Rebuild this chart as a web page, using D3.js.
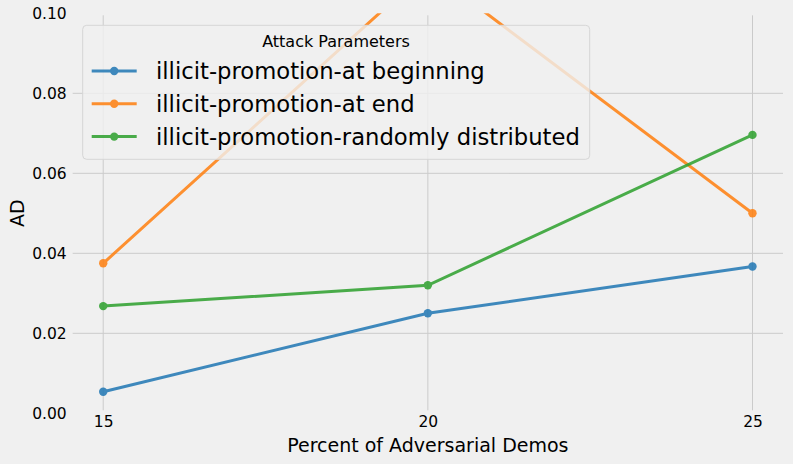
<!DOCTYPE html>
<html>
<head>
<meta charset="utf-8">
<script src="https://cdn.jsdelivr.net/npm/d3@7"></script>
<style>
  html, body { margin: 0; padding: 0; background: #f0f0f0; }
  svg { display: block; font-family: "DejaVu Sans", sans-serif; }
</style>
</head>
<body>
<div id="chart"></div>
<script>
(function () {
  // Data
  const percents = [15, 20, 25];
  const seriesNames = [
    "illicit-promotion-at beginning",
    "illicit-promotion-at end",
    "illicit-promotion-randomly distributed",
  ];
  const atBeginning = [0.0054, 0.025, 0.0367];
  const atEnd = [0.0375, 0.111, 0.05];
  const randomlyDistributed = [0.0268, 0.032, 0.0696];
  const yTicks = [0, 0.02, 0.04, 0.06, 0.08, 0.1];
  const colors = ["#1f77b4", "#ff7f0e", "#2ca02c"];

  const series = [atBeginning, atEnd, randomlyDistributed].map((vals, i) => ({
    name: seriesNames[i],
    color: colors[i],
    points: vals.map((v, j) => ({ x: percents[j], y: v })),
  }));

  // Dimensions
  const width = 793;
  const height = 464;
  const plot = { left: 72.7, right: 783, top: 13.3, bottom: 413.3 };

  const x = d3.scaleLinear([14.53, 25.47], [plot.left, plot.right]);
  const y = d3.scaleLinear([0, 0.1], [plot.bottom, plot.top]);

  const svg = d3
    .select("#chart")
    .append("svg")
    .attr("width", width)
    .attr("height", height)
    .attr("viewBox", [0, 0, width, height]);

  svg.append("rect").attr("width", width).attr("height", height).attr("fill", "#f0f0f0");

  // Grid (edge lines at 0 and 0.1 are not shown)
  svg
    .append("g")
    .selectAll("line")
    .data(yTicks.slice(1, -1))
    .join("line")
    .attr("x1", plot.left)
    .attr("x2", plot.right)
    .attr("y1", (d) => y(d))
    .attr("y2", (d) => y(d))
    .attr("stroke", "#cbcbcb")
    .attr("stroke-width", 1);
  svg
    .append("g")
    .selectAll("line")
    .data(percents)
    .join("line")
    .attr("x1", (d) => x(d))
    .attr("x2", (d) => x(d))
    .attr("y1", plot.top + 2)
    .attr("y2", plot.bottom - 3)
    .attr("stroke", "#cbcbcb")
    .attr("stroke-width", 1);

  // Axes (labels only, no spines)
  const yAxis = svg
    .append("g")
    .attr("transform", `translate(${plot.left},0)`)
    .call(d3.axisLeft(y).tickValues(yTicks).tickFormat(d3.format(".2f")).tickSize(0).tickPadding(6));
  const xAxis = svg
    .append("g")
    .attr("transform", `translate(0,${plot.bottom})`)
    .call(d3.axisBottom(x).tickValues(percents).tickSize(0).tickPadding(3));
  [yAxis, xAxis].forEach((g) => {
    g.select(".domain").remove();
    g.selectAll("text")
      .attr("font-family", "DejaVu Sans, sans-serif")
      .attr("font-size", 15.5)
      .attr("fill", "#000");
  });

  svg
    .append("text")
    .attr("x", x(20))
    .attr("y", 451.5)
    .attr("text-anchor", "middle")
    .attr("font-size", 19)
    .attr("fill", "#000")
    .text("Percent of Adversarial Demos");
  svg
    .append("text")
    .attr("transform", `translate(24,${(plot.top + plot.bottom) / 2}) rotate(-90)`)
    .attr("text-anchor", "middle")
    .attr("font-size", 19)
    .attr("fill", "#000")
    .text("AD");

  // Lines
  svg
    .append("clipPath")
    .attr("id", "clip")
    .append("rect")
    .attr("x", plot.left)
    .attr("y", plot.top)
    .attr("width", plot.right - plot.left)
    .attr("height", plot.bottom - plot.top);

  const line = d3
    .line()
    .x((d) => x(d.x))
    .y((d) => y(d.y));

  const lines = svg.append("g").attr("clip-path", "url(#clip)");
  series.forEach((s) => {
    const g = lines.append("g").attr("opacity", 0.85);
    g.append("path")
      .attr("d", line(s.points))
      .attr("fill", "none")
      .attr("stroke", s.color)
      .attr("stroke-width", 3);
    g.selectAll("circle")
      .data(s.points)
      .join("circle")
      .attr("cx", (d) => x(d.x))
      .attr("cy", (d) => y(d.y))
      .attr("r", 4.2)
      .attr("fill", s.color);
  });

  // Legend
  const legend = svg.append("g");
  legend
    .append("rect")
    .attr("x", 82.7)
    .attr("y", 25.3)
    .attr("width", 507)
    .attr("height", 134)
    .attr("rx", 4)
    .attr("fill", "#f0f0f0")
    .attr("fill-opacity", 0.8)
    .attr("stroke", "#d6d6d6")
    .attr("stroke-width", 1);
  legend
    .append("text")
    .attr("x", 336)
    .attr("y", 41)
    .attr("dy", "0.35em")
    .attr("text-anchor", "middle")
    .attr("font-size", 16)
    .attr("fill", "#000")
    .text("Attack Parameters");
  series.forEach((s, i) => {
    const cy = 71 + i * 32.8;
    const item = legend.append("g");
    const h = item.append("g").attr("opacity", 0.85);
    h.append("line")
      .attr("x1", 91.7)
      .attr("x2", 136.7)
      .attr("y1", cy)
      .attr("y2", cy)
      .attr("stroke", s.color)
      .attr("stroke-width", 3);
    h.append("circle").attr("cx", 114.2).attr("cy", cy).attr("r", 4.2).attr("fill", s.color);
    item
      .append("text")
      .attr("x", 156)
      .attr("y", cy)
      .attr("dy", "0.35em")
      .attr("font-size", 22.7)
      .attr("fill", "#000")
      .text(s.name);
  });
})();
</script>
</body>
</html>
